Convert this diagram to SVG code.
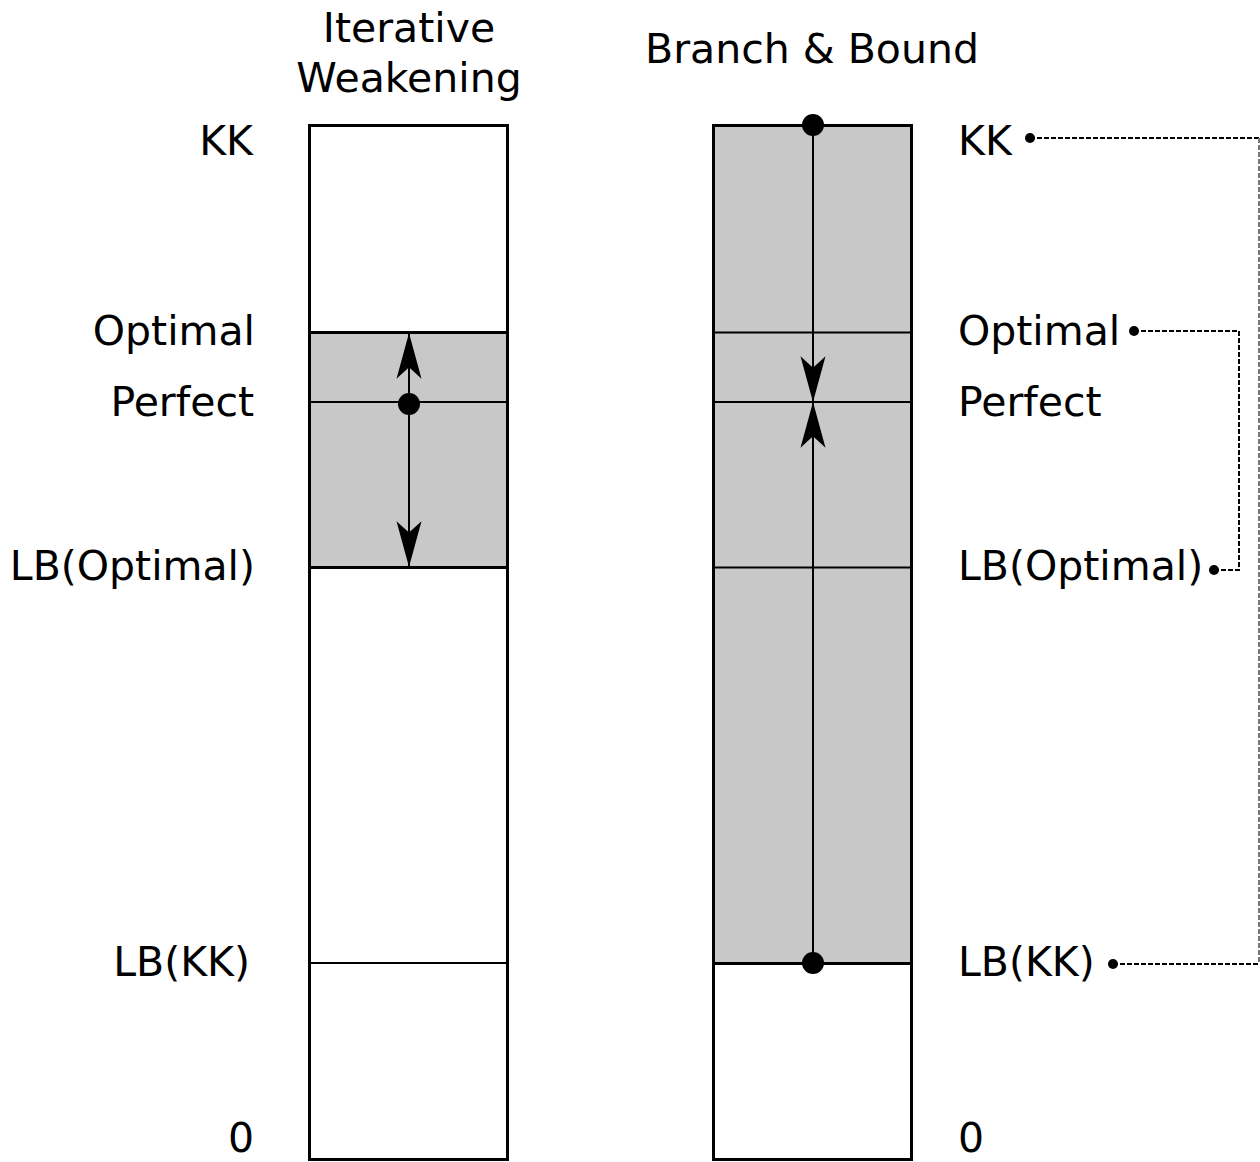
<svg xmlns="http://www.w3.org/2000/svg" width="1260" height="1162" viewBox="0 0 1260 1162">
<style>
text{font-family:"DejaVu Sans","Liberation Sans",sans-serif;font-size:41px;fill:#000}
.r{text-anchor:end}
.m{text-anchor:middle}
.box{fill:#fff;stroke:#000;stroke-width:3}
.sh{fill:#c8c8c8;stroke:none}
.ln{stroke:#000;stroke-width:2;fill:none}
.ln3{stroke:#000;stroke-width:3;fill:none}
.arr{stroke:#000;stroke-width:2;fill:none;marker-end:url(#ah)}
.dash{stroke:#000;stroke-width:2;fill:none;stroke-dasharray:5,2}
.dashg{stroke:#777;stroke-width:2;fill:none;stroke-dasharray:5,2}
</style>
<defs>
<marker id="ah" markerUnits="userSpaceOnUse" markerWidth="50" markerHeight="30" viewBox="-46 -14 48 28" refX="0" refY="0" orient="auto">
<path d="M0,0 L-44,-12 L-33,0 L-44,12 Z" fill="#000"/>
</marker>
</defs>
<g id="titles">
<text class="m" x="409" y="42">Iterative</text>
<text class="m" x="409" y="92">Weakening</text>
<text class="m" x="812" y="63">Branch &amp; Bound</text>
</g>
<g id="iw-bar">
<rect class="box" x="309.5" y="125.5" width="198" height="1034"/>
<rect class="sh" x="311" y="333" width="195" height="234"/>
<line class="ln3" x1="309" y1="332.5" x2="508" y2="332.5"/>
<line class="ln" x1="309" y1="402" x2="508" y2="402"/>
<line class="ln3" x1="309" y1="567.5" x2="508" y2="567.5"/>
<line class="ln" x1="309" y1="963" x2="508" y2="963"/>
</g>
<g id="iw-labels">
<text class="r" x="253" y="155">KK</text>
<text class="r" x="255" y="345">Optimal</text>
<text class="r" x="254" y="416">Perfect</text>
<text class="r" x="255" y="580">LB(Optimal)</text>
<text class="r" x="250" y="976">LB(KK)</text>
<text class="r" x="254" y="1152">0</text>
</g>
<g id="bb-bar">
<rect class="box" x="713.5" y="125.5" width="198" height="1034"/>
<rect class="sh" x="715" y="127" width="195" height="835"/>
<line class="ln" x1="713" y1="332.5" x2="912" y2="332.5"/>
<line class="ln" x1="713" y1="402" x2="912" y2="402"/>
<line class="ln" x1="713" y1="567.5" x2="912" y2="567.5"/>
<line class="ln3" x1="713" y1="963.5" x2="912" y2="963.5"/>
</g>
<g id="bb-labels">
<text x="958" y="155">KK</text>
<text x="958" y="345">Optimal</text>
<text x="958" y="416">Perfect</text>
<text x="958" y="580">LB(Optimal)</text>
<text x="958" y="976">LB(KK)</text>
<text x="958" y="1152">0</text>
</g>
<g id="connectors">
<line class="arr" x1="409" y1="403" x2="409" y2="333"/>
<line class="arr" x1="409" y1="403" x2="409" y2="567"/>
<circle cx="409" cy="404" r="11"/>
<line class="arr" x1="813" y1="125" x2="813" y2="402"/>
<line class="arr" x1="813" y1="963" x2="813" y2="402"/>
<circle cx="813" cy="125" r="11"/>
<circle cx="813" cy="963" r="11"/>
<circle cx="1030" cy="138" r="5"/>
<path class="dash" d="M1030,138 H1259"/>
<path class="dashg" d="M1259,138 V963"/>
<path class="dash" d="M1113,964 H1259"/>
<circle cx="1113" cy="964" r="5"/>
<circle cx="1134" cy="331" r="5"/>
<path class="dash" d="M1134,331 H1239 V570 H1214"/>
<circle cx="1214" cy="570" r="5"/>
</g>
</svg>
